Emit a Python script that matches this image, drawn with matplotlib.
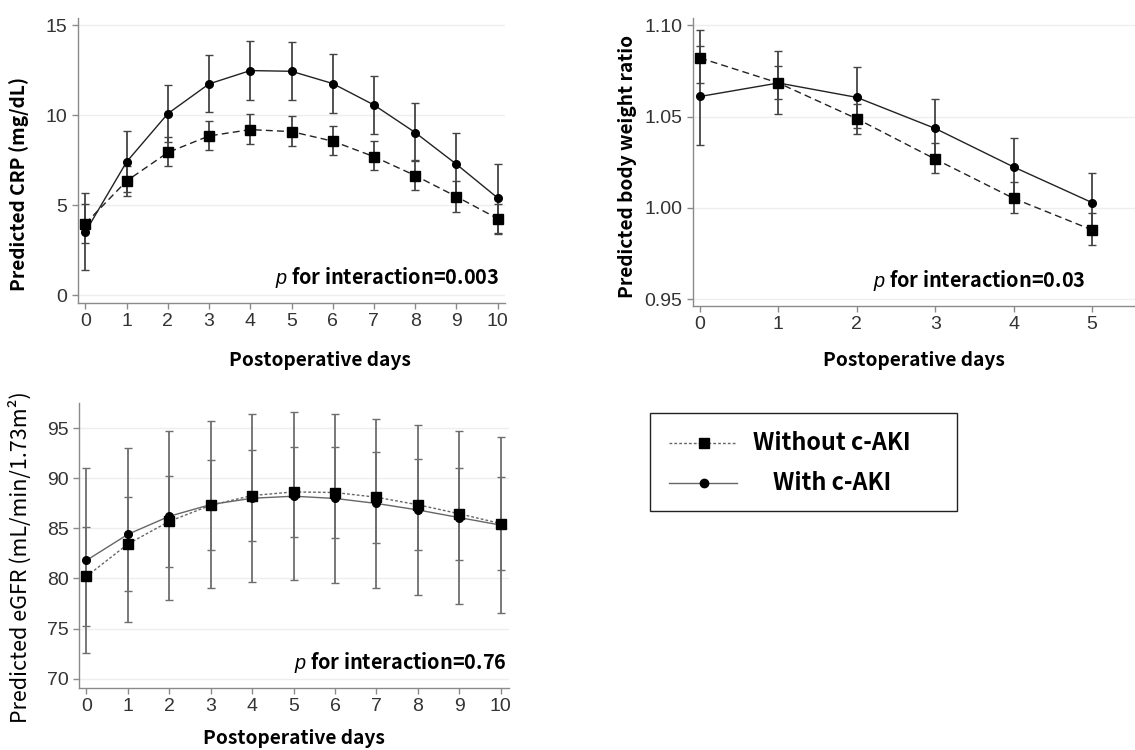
import numpy as np
import matplotlib
matplotlib.use('Agg')
import matplotlib.pyplot as plt
from matplotlib.lines import Line2D
from matplotlib.patches import Rectangle
from matplotlib.ticker import FormatStrFormatter

plt.rcParams['font.family'] = ['Noto Sans CJK JP', 'DejaVu Sans']
plt.rcParams['mathtext.fontset'] = 'custom'
plt.rcParams['mathtext.it'] = 'Liberation Sans:italic'

# ---- data ----
days = np.arange(11)
days_bw = np.arange(6)

crp_with = [3.52, 7.41, 10.09, 11.74, 12.48, 12.44, 11.76, 10.57, 9.04, 7.28, 5.41]
crp_with_lo = [1.43, 5.72, 8.50, 10.17, 10.87, 10.83, 10.15, 8.94, 7.46, 5.56, 3.46]
crp_with_hi = [5.69, 9.13, 11.69, 13.33, 14.11, 14.07, 13.41, 12.20, 10.69, 9.02, 7.28]
crp_wo = [3.98, 6.35, 7.93, 8.85, 9.20, 9.09, 8.56, 7.70, 6.65, 5.48, 4.26]
crp_wo_lo = [2.93, 5.50, 7.17, 8.07, 8.41, 8.31, 7.78, 6.93, 5.83, 4.65, 3.41]
crp_wo_hi = [5.09, 7.17, 8.80, 9.70, 10.07, 9.94, 9.41, 8.57, 7.54, 6.37, 5.06]

bw_with = [1.0610, 1.0684, 1.0605, 1.0435, 1.0224, 1.0029]
bw_with_lo = [1.0342, 1.0513, 1.0440, 1.0274, 1.0063, 0.9864]
bw_with_hi = [1.0973, 1.0857, 1.0770, 1.0596, 1.0385, 1.0193]
bw_wo = [1.0821, 1.0684, 1.0488, 1.0267, 1.0052, 0.9879]
bw_wo_lo = [1.0684, 1.0596, 1.0407, 1.0188, 0.9974, 0.9796]
bw_wo_hi = [1.0888, 1.0779, 1.0570, 1.0354, 1.0139, 0.9970]

egfr_with = [81.8, 84.4, 86.2, 87.37, 88.0, 88.2, 87.98, 87.48, 86.83, 86.07, 85.32]
egfr_with_lo = [72.57, 75.7, 77.8, 79.0, 79.63, 79.8, 79.57, 79.03, 78.33, 77.47, 76.57]
egfr_with_hi = [91.03, 93.03, 94.67, 95.73, 96.4, 96.6, 96.4, 95.93, 95.33, 94.67, 94.07]
egfr_wo = [80.2, 83.43, 85.7, 87.3, 88.27, 88.63, 88.57, 88.1, 87.35, 86.45, 85.47]
egfr_wo_lo = [75.27, 78.77, 81.17, 82.8, 83.77, 84.13, 84.07, 83.57, 82.8, 81.87, 80.83]
egfr_wo_hi = [85.13, 88.1, 90.23, 91.83, 92.77, 93.13, 93.07, 92.63, 91.9, 91.03, 90.1]

p_texts = ['0.003', '0.03', '0.76']
legend_labels = ['Without c-AKI', 'With c-AKI']

W, H = 1135, 750
fig = plt.figure(figsize=(W / 100, H / 100), dpi=100)


def px_axes(l, t, r, b):
    return fig.add_axes([l / W, 1 - b / H, (r - l) / W, (b - t) / H])


def style_axes(ax, yticks):
    for s in ['top', 'right']:
        ax.spines[s].set_visible(False)
    for s in ['left', 'bottom']:
        ax.spines[s].set_color('#8a8a8a')
        ax.spines[s].set_linewidth(1.0)
    ax.set_yticks(yticks)
    ax.grid(axis='y', color='#eeeeee', linewidth=1.0)
    ax.set_axisbelow(True)
    ax.tick_params(colors='#8a8a8a', length=4, width=1, labelcolor='#333333',
                   labelsize=14, labelfontfamily='Liberation Sans')


def err(y, lo, hi):
    y = np.asarray(y)
    return [y - np.asarray(lo), np.asarray(hi) - y]


def draw(ax, x, y_wo, lo_wo, hi_wo, y_w, lo_w, hi_w, ecol, lcol, ls_wo):
    ax.errorbar(x, y_w, yerr=err(y_w, lo_w, hi_w), fmt='none', ecolor=ecol,
                elinewidth=1.3, capsize=3, capthick=1.0, zorder=2)
    ax.errorbar(x, y_wo, yerr=err(y_wo, lo_wo, hi_wo), fmt='none', ecolor=ecol,
                elinewidth=1.3, capsize=3, capthick=1.0, zorder=2)
    ax.plot(x, y_wo, color=lcol, ls=ls_wo, lw=1.0, zorder=3)
    ax.plot(x, y_w, color=lcol, ls='-', lw=1.0, zorder=3)
    ax.plot(x, y_wo, 's', color='black', ms=6.5, ls='none', zorder=4)
    ax.plot(x, y_w, 'o', color='black', ms=5.5, ls='none', zorder=4)


lab_kw = dict(fontsize=13.8, fontweight='bold')

# ---- panel 1: CRP ----
ax1 = px_axes(78, 18, 505, 303)
draw(ax1, days, crp_wo, crp_wo_lo, crp_wo_hi, crp_with, crp_with_lo, crp_with_hi,
     '#444444', '#222222', (0, (5, 3)))
ax1.set_xlim(-0.18, 10.18)
ax1.set_ylim(-0.43, 15.4)
ax1.set_xticks(days)
style_axes(ax1, [0, 5, 10, 15])
ax1.set_ylabel('Predicted CRP (mg/dL)', **lab_kw)
ax1.yaxis.set_label_coords(-0.115, 0.418)
ax1.set_xlabel('Postoperative days', **lab_kw)
ax1.xaxis.set_label_coords(0.567, -0.168)

# ---- panel 2: body weight ratio ----
ax2 = px_axes(693, 18, 1135, 306)
draw(ax2, days_bw, bw_wo, bw_wo_lo, bw_wo_hi, bw_with, bw_with_lo, bw_with_hi,
     '#444444', '#222222', (0, (5, 3)))
ax2.set_xlim(-0.09, 5.55)
ax2.set_ylim(0.9462, 1.104)
ax2.set_xticks(days_bw)
style_axes(ax2, [0.95, 1.00, 1.05, 1.10])
ax2.yaxis.set_major_formatter(FormatStrFormatter('%.2f'))
ax2.set_ylabel('Predicted body weight ratio', **lab_kw)
ax2.yaxis.set_label_coords(-0.127, 0.486)
ax2.set_xlabel('Postoperative days', **lab_kw)
ax2.xaxis.set_label_coords(0.5, -0.156)

# ---- panel 3: eGFR ----
ax3 = px_axes(79, 403, 509, 688)
draw(ax3, days, egfr_wo, egfr_wo_lo, egfr_wo_hi, egfr_with, egfr_with_lo, egfr_with_hi,
     '#6e6e6e', '#666666', (0, (2, 1.5)))
ax3.set_xlim(-0.18, 10.2)
ax3.set_ylim(69.07, 97.5)
ax3.set_xticks(days)
style_axes(ax3, [70, 75, 80, 85, 90, 95])
ax3.set_ylabel('Predicted eGFR (mL/min/1.73m²)', fontsize=15.5)
ax3.yaxis.set_label_coords(-0.109, 0.46)
ax3.set_xlabel('Postoperative days', **lab_kw)
ax3.xaxis.set_label_coords(0.5, -0.144)

# p for interaction annotations (right edge x in pixels)
for ax, pt, xr in zip([ax1, ax2, ax3], p_texts, [499, 1085, 507]):
    l = ax.get_position().x0 * W
    w = ax.get_position().width * W
    ax.text((xr - l) / w, 0.09, r'$p$ for interaction=' + pt, transform=ax.transAxes,
            ha='right', va='center', fontsize=14.3, fontweight='bold', color='black')

# ---- legend, built by hand so the labels can be centred ----
fig.patches.append(Rectangle((650 / W, 1 - 511 / H), 307 / W, 98 / H, transform=fig.transFigure,
                             fill=False, edgecolor='#222222', lw=1.0))
rows = [(443, (0, (2, 1.5)), 's', 7), (483, '-', 'o', 6)]
for (yp, ls, mk, ms), lab in zip(rows, legend_labels):
    yf = 1 - yp / H
    fig.add_artist(Line2D([669 / W, 737 / W], [yf, yf], transform=fig.transFigure,
                          color='#666666', ls=ls, lw=1.0))
    fig.add_artist(Line2D([704 / W], [yf], transform=fig.transFigure, marker=mk,
                          color='black', ms=ms, ls='none'))
    fig.text(832 / W, yf, lab, ha='center', va='center', fontsize=16.8, fontweight='bold')

fig.savefig('out.png', dpi=100)
